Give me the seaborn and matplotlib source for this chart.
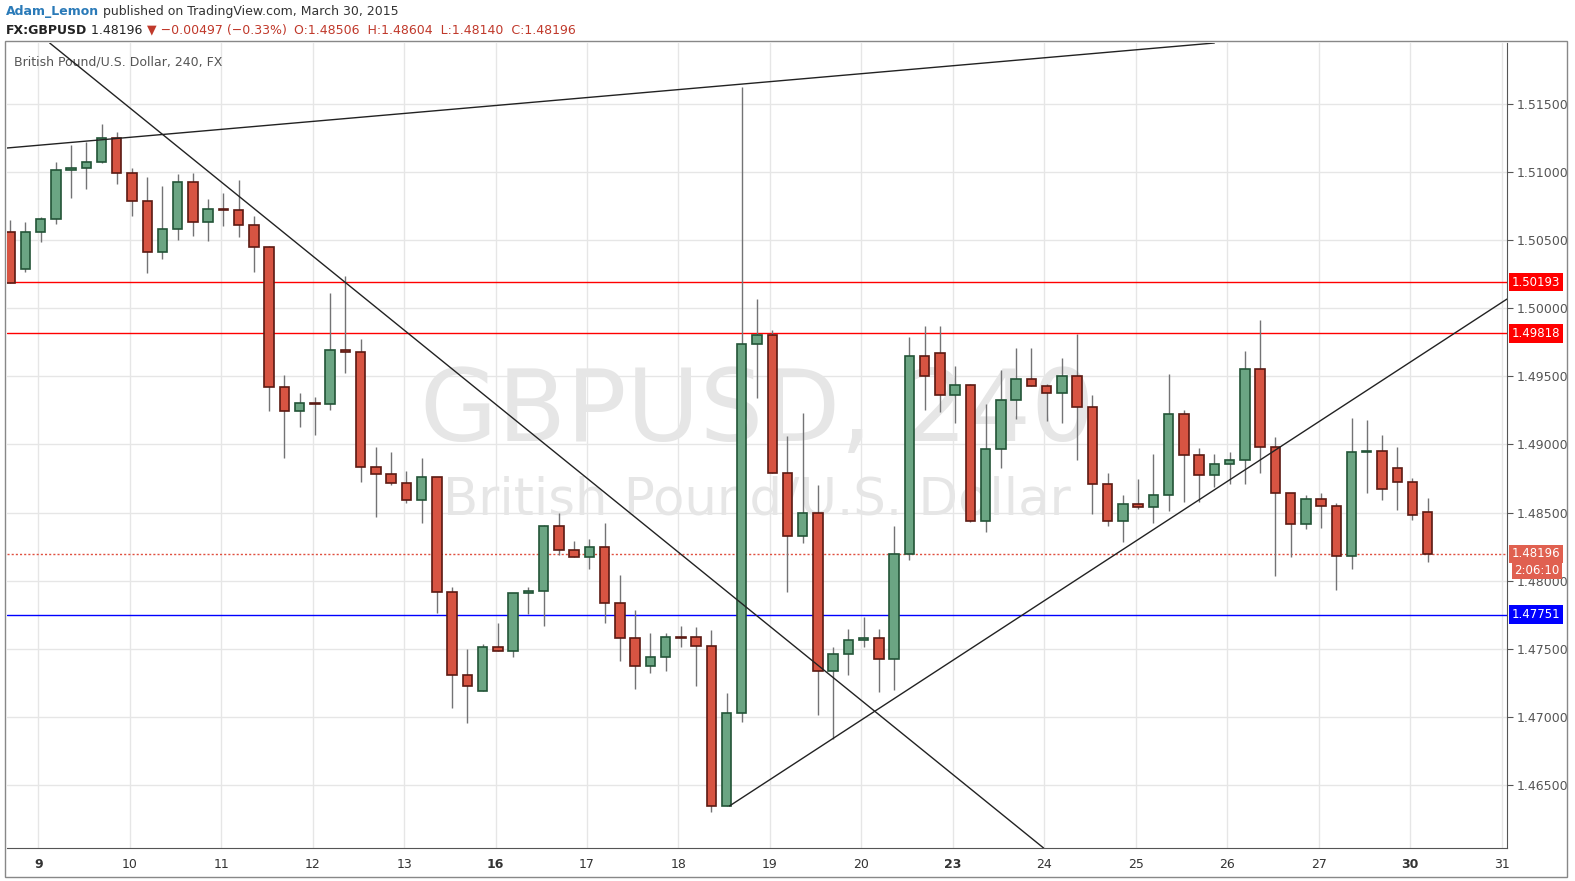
import numpy as np
import pandas as pd
import matplotlib.pyplot as plt
import seaborn as sns

# 4h candles, GBPUSD 9 - 30 March 2015
opens = [1.50560, 1.50289, 1.50560, 1.50656, 1.51015, 1.51030, 1.51074, 1.51250, 1.50993, 1.50788,
         1.50413, 1.50582, 1.50927, 1.50634, 1.50729, 1.50722, 1.50612, 1.50450, 1.49422, 1.49246,
         1.49305, 1.49297, 1.49694, 1.49679, 1.48835, 1.48783, 1.48717, 1.48593, 1.48761, 1.47917,
         1.47308, 1.47190, 1.47513, 1.47484, 1.47910, 1.47924, 1.48402, 1.48226, 1.48174, 1.48247,
         1.47836, 1.47579, 1.47374, 1.47440, 1.47587, 1.47587, 1.47521, 1.46346, 1.47029, 1.49738,
         1.49804, 1.48791, 1.48328, 1.48497, 1.47337, 1.47462, 1.47565, 1.47579, 1.47425, 1.48196,
         1.49650, 1.49672, 1.49364, 1.49437, 1.48438, 1.48967, 1.49327, 1.49481, 1.49430, 1.49378,
         1.49503, 1.49275, 1.48710, 1.48438, 1.48563, 1.48541, 1.48629, 1.49224, 1.48923, 1.48776,
         1.48857, 1.48886, 1.49554, 1.48982, 1.48644, 1.48416, 1.48600, 1.48549, 1.48181, 1.48945,
         1.48952, 1.48828, 1.48725, 1.48506]
highs = [1.50648, 1.50634, 1.50670, 1.51074, 1.51199, 1.51221, 1.51353, 1.51294, 1.51030, 1.50964,
         1.50898, 1.50986, 1.50993, 1.50803, 1.50847, 1.50942, 1.50678, 1.50457, 1.49510, 1.49378,
         1.49349, 1.50112, 1.50237, 1.49775, 1.48982, 1.48945, 1.48806, 1.48901, 1.48761, 1.47954,
         1.47499, 1.47535, 1.47690, 1.47910, 1.47954, 1.48409, 1.48497, 1.48292, 1.48306, 1.48424,
         1.48042, 1.47785, 1.47616, 1.47616, 1.47667, 1.47660, 1.47638, 1.47176, 1.51625, 1.50068,
         1.49841, 1.49062, 1.49231, 1.48703, 1.47513, 1.47645, 1.47734, 1.47645, 1.48402, 1.49789,
         1.49870, 1.49870, 1.49576, 1.49444, 1.49297, 1.49547, 1.49709, 1.49709, 1.49444, 1.49635,
         1.49811, 1.49364, 1.48791, 1.48629, 1.48747, 1.48930, 1.49518, 1.49253, 1.48974, 1.48930,
         1.48945, 1.49687, 1.49914, 1.49055, 1.48644, 1.48629, 1.48644, 1.48571, 1.49195, 1.49180,
         1.49070, 1.48982, 1.48754, 1.48604]
lows = [1.50186, 1.50267, 1.50487, 1.50619, 1.50810, 1.50876, 1.51067, 1.50913, 1.50678, 1.50259,
        1.50362, 1.50501, 1.50531, 1.50494, 1.50604, 1.50524, 1.50267, 1.49246, 1.48901, 1.49129,
        1.49070, 1.49253, 1.49525, 1.48725, 1.48468, 1.48702, 1.48571, 1.48424, 1.47763, 1.47065,
        1.46955, 1.47190, 1.47484, 1.47440, 1.47756, 1.47667, 1.48189, 1.48174, 1.48086, 1.47690,
        1.47411, 1.47205, 1.47322, 1.47337, 1.47513, 1.47227, 1.46302, 1.46346, 1.46963, 1.49341,
        1.48791, 1.47917, 1.48277, 1.47014, 1.46838, 1.47308, 1.47513, 1.47183, 1.47198, 1.48152,
        1.49253, 1.49239, 1.49158, 1.48431, 1.48358, 1.48828, 1.49187, 1.49430, 1.49173, 1.49158,
        1.48886, 1.48490, 1.48402, 1.48284, 1.48526, 1.48424, 1.48512, 1.48578, 1.48578, 1.48688,
        1.48710, 1.48710, 1.48791, 1.48035, 1.48174, 1.48380, 1.48387, 1.47932, 1.48086, 1.48644,
        1.48593, 1.48519, 1.48446, 1.48140]
closes = [1.50186, 1.50560, 1.50656, 1.51015, 1.51030, 1.51074, 1.51250, 1.50993, 1.50788, 1.50413,
          1.50582, 1.50927, 1.50634, 1.50729, 1.50722, 1.50612, 1.50450, 1.49422, 1.49246, 1.49305,
          1.49297, 1.49694, 1.49679, 1.48835, 1.48783, 1.48717, 1.48593, 1.48761, 1.47917, 1.47308,
          1.47227, 1.47513, 1.47484, 1.47910, 1.47924, 1.48402, 1.48226, 1.48174, 1.48247, 1.47836,
          1.47579, 1.47374, 1.47440, 1.47587, 1.47579, 1.47521, 1.46346, 1.47029, 1.49738, 1.49804,
          1.48791, 1.48328, 1.48497, 1.47337, 1.47462, 1.47565, 1.47579, 1.47425, 1.48196, 1.49650,
          1.49503, 1.49364, 1.49437, 1.48438, 1.48967, 1.49327, 1.49481, 1.49430, 1.49378, 1.49503,
          1.49275, 1.48710, 1.48438, 1.48563, 1.48541, 1.48629, 1.49224, 1.48923, 1.48776, 1.48857,
          1.48886, 1.49554, 1.48982, 1.48644, 1.48416, 1.48600, 1.48549, 1.48181, 1.48945, 1.48952,
          1.48673, 1.48725, 1.48482, 1.48196]

day_labels = ["9", "10", "11", "12", "13", "16", "17", "18", "19", "20",
              "23", "24", "25", "26", "27", "30", "31"]
week_starts = ["9", "16", "23", "30"]
price_ticks = [1.465, 1.470, 1.475, 1.480, 1.485, 1.490, 1.495, 1.500, 1.505, 1.510, 1.515]

levels = {1.50193: "#ff0000", 1.49818: "#ff0000", 1.47751: "#0000ff"}
last_price = 1.48196

# drawn trend lines: (bar index, price)
trend_lines = [[(2.6, 1.51948), (67.8, 1.46037)],
               [(-0.2, 1.51177), (79.0, 1.51948)],
               [(47.2, 1.46346), (98.2, 1.50068)]]

# header pieces: (text, colour, bold)
header1 = [("Adam_Lemon", "#2a7ab8", True), (" published on TradingView.com, March 30, 2015", "#333333", False)]
header2 = [("FX:GBPUSD", "#222222", True), (" 1.48196 ", "#222222", False),
           ("\u25bc \u22120.00497 (\u22120.33%)", "#c0392b", False),
           ("  O:1.48506  H:1.48604  L:1.48140  C:1.48196", "#c0392b", False)]

df = pd.DataFrame({"open": opens, "high": highs, "low": lows, "close": closes})
df["idx"] = np.arange(len(df))
df["up"] = df["close"] >= df["open"]

sns.set_style("white")
plt.rcParams["font.family"] = ["DejaVu Sans"]

fig = plt.figure(figsize=(15.75, 8.81), dpi=100)
ax = fig.add_axes([7 / 1575, 33 / 881, 1500 / 1575, 805 / 881])
ax.set_xlim(-0.2, 98.2)
ax.set_ylim(1.46037, 1.51948)

day_pos = [1.85 + 6 * k for k in range(len(day_labels))]
ax.set_xticks(day_pos)
ax.set_xticklabels(day_labels, fontsize=9, color="#333333")
for lab in ax.get_xticklabels():
    if lab.get_text() in week_starts:
        lab.set_fontweight("bold")
ax.yaxis.tick_right()
ax.set_yticks(price_ticks)
ax.set_yticklabels([f"{p:.5f}" for p in price_ticks], fontsize=9, color="#555555")
ax.tick_params(axis="both", length=4, color="#555555", pad=3)
ax.grid(True, color="#e6e6e6", linewidth=1)
ax.set_axisbelow(True)
for s in ["top", "left"]:
    ax.spines[s].set_visible(False)
for s in ["right", "bottom"]:
    ax.spines[s].set_color("#555555")

# watermark
ax.text(0.5, 0.54, "GBPUSD, 240", transform=ax.transAxes, fontsize=72, color="#e6e6e6",
        ha="center", va="center", zorder=0)
ax.text(0.5, 0.432, "British Pound/U.S. Dollar", transform=ax.transAxes, fontsize=37,
        color="#e6e6e6", ha="center", va="center", zorder=0)
ax.text(0.005, 0.985, "British Pound/U.S. Dollar, 240, FX", transform=ax.transAxes,
        fontsize=9, color="#555555", va="top")

for price, col in levels.items():
    ax.axhline(price, color=col, linewidth=1, zorder=1)
ax.axhline(last_price, color="#e05040", linewidth=1, linestyle=(0, (1.5, 1.5)), zorder=1)

for (x0, y0), (x1, y1) in trend_lines:
    ax.plot([x0, x1], [y0, y1], color="#222222", linewidth=1, zorder=4)

# candles
ax.vlines(df["idx"], df["low"], df["high"], color="#737375", linewidth=1, zorder=2)
for up, face, edge in [(True, "#6ba583", "#225437"), (False, "#d75442", "#5b1a13")]:
    sub = df[df["up"] == up]
    bottom = sub[["open", "close"]].min(axis=1)
    height = (sub["close"] - sub["open"]).abs().clip(lower=0.00008)
    ax.bar(sub["idx"], height, bottom=bottom, width=0.62, color=face, edgecolor=edge,
           linewidth=1.2, zorder=3)

# price labels on the right axis
tag_kw = dict(transform=ax.get_yaxis_transform(), fontsize=8.5, color="white", va="center",
              ha="left", clip_on=False)
for price, col in levels.items():
    ax.text(1.003, price, f"{price:.5f}", bbox=dict(boxstyle="square,pad=0.25", fc=col, ec="none"), **tag_kw)
ax.text(1.003, last_price, f"{last_price:.5f}",
        bbox=dict(boxstyle="square,pad=0.25", fc="#e06050", ec="none"), **tag_kw)
ax.text(1.005, last_price - 0.0012, "2:06:10",
        bbox=dict(boxstyle="square,pad=0.2", fc="#e06050", ec="none"), **tag_kw)

# header, pieces placed one after another
renderer = fig.canvas.get_renderer()
for row, y_px in [(header1, 12), (header2, 30)]:
    x_px = 6
    for txt, col, bold in row:
        t = fig.text(x_px / 1575, 1 - y_px / 881, txt, color=col, fontsize=9,
                     fontweight="bold" if bold else "normal", va="center")
        x_px += t.get_window_extent(renderer).width

frame = plt.Rectangle((5 / 1575, 4 / 881), 1562 / 1575, 836 / 881, transform=fig.transFigure,
                      fill=False, edgecolor="#888888", linewidth=1)
fig.patches.append(frame)

fig.savefig("out.png", dpi=100)
